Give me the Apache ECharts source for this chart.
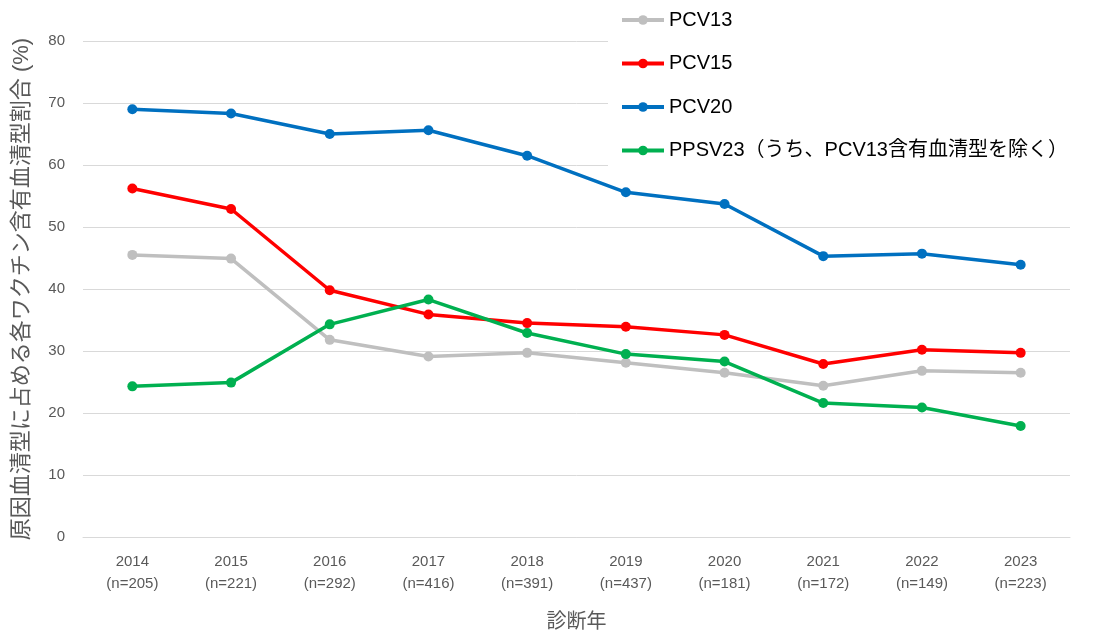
<!DOCTYPE html>
<html>
<head>
<meta charset="utf-8">
<script src="https://cdn.jsdelivr.net/npm/echarts@6/dist/echarts.min.js"></script>
<style>
html,body{margin:0;padding:0;background:#fff;width:100%;height:100%;overflow:hidden;}
#chart{width:1116px;height:637px;}
</style>
</head>
<body>
<div id="chart"></div>
<script>
const years = ['2014','2015','2016','2017','2018','2019','2020','2021','2022','2023'];
const counts = ['205','221','292','416','391','437','181','172','149','223'];
const pcv13 = [45.5, 44.9, 31.8, 29.1, 29.7, 28.1, 26.5, 24.4, 26.8, 26.5];
const pcv15 = [56.2, 52.9, 39.8, 35.9, 34.5, 33.9, 32.6, 27.9, 30.2, 29.7];
const pcv20 = [69.0, 68.3, 65.0, 65.6, 61.5, 55.6, 53.7, 45.3, 45.7, 43.9];
const ppsv23 = [24.3, 24.9, 34.3, 38.3, 32.9, 29.5, 28.3, 21.6, 20.9, 17.9];
const seriesNames = ['PCV13', 'PCV15', 'PCV20', 'PPSV23（うち、PCV13含有血清型を除く）'];
const yTicks = [0, 10, 20, 30, 40, 50, 60, 70, 80];

const categories = years.map((y, i) => y + '\n(n=' + counts[i] + ')');
const colors = ['#BFBFBF', '#FF0000', '#0070C0', '#00B050'];
const dataSets = [pcv13, pcv15, pcv20, ppsv23];
const FONT = '"Liberation Sans", "Noto Sans CJK JP", sans-serif';

const chart = echarts.init(document.getElementById('chart'), null, {renderer: 'canvas', width: 1116, height: 637});
chart.setOption({
  animation: false,
  backgroundColor: '#fff',
  textStyle: {fontFamily: FONT},
  grid: {left: 83, right: 46, top: 41, bottom: 95, containLabel: false},
  legend: {
    orient: 'vertical',
    left: 608,
    top: 0,
    padding: [9, 10, 12, 12],
    backgroundColor: '#fff',
    itemWidth: 42,
    itemHeight: 12,
    itemGap: 21.5,
    lineStyle: {width: 4},
    textStyle: {fontSize: 20, color: '#000', fontFamily: FONT, lineHeight: 22},
    data: seriesNames
  },
  xAxis: {
    type: 'category',
    data: categories,
    boundaryGap: true,
    name: '診断年',
    nameLocation: 'middle',
    nameGap: 75,
    nameTextStyle: {fontSize: 20, color: '#595959', fontFamily: FONT},
    axisLine: {show: true, lineStyle: {color: '#D9D9D9', width: 1}},
    axisTick: {show: false},
    axisLabel: {fontSize: 15, color: '#595959', lineHeight: 22, margin: 14, interval: 0, fontFamily: FONT}
  },
  yAxis: {
    type: 'value',
    min: yTicks[0],
    max: yTicks[yTicks.length - 1],
    interval: 10,
    name: '原因血清型に占める各ワクチン含有血清型割合 (%)',
    nameLocation: 'middle',
    nameGap: 50,
    nameRotate: 90,
    nameTextStyle: {fontSize: 22, color: '#595959', fontFamily: FONT},
    axisLine: {show: false},
    axisTick: {show: false},
    axisLabel: {fontSize: 15, color: '#595959', margin: 18, fontFamily: FONT},
    splitLine: {show: true, lineStyle: {color: '#D9D9D9', width: 1}}
  },
  series: seriesNames.map((n, i) => ({
    name: n,
    type: 'line',
    data: dataSets[i],
    symbol: 'circle',
    symbolSize: 10,
    z: 2 + i,
    lineStyle: {color: colors[i], width: 3.5},
    itemStyle: {color: colors[i]}
  }))
});
</script>
</body>
</html>
